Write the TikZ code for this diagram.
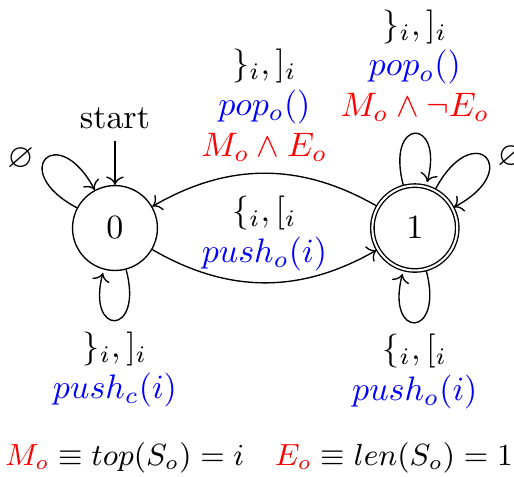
\documentclass[tikz,border=0pt]{standalone}
\usepackage{amsmath}
\usepackage{amssymb}
\usepackage{tikz}
\usetikzlibrary{
    arrows.meta, positioning,
    automata
}
\tikzset{
  st/.style={state, minimum size=2.5em},
  trans/.style={->},
  lbl/.style={align=center},
  loopul/.style={loop, out=152, in=118, looseness=8, min distance=5mm},
  loopur/.style={loop, out=62, in=28, looseness=8, min distance=5mm},
}
\newcommand{\act}[1]{\textcolor{blue}{$#1$}}
\newcommand{\cnd}[1]{\textcolor{red}{$#1$}}

\begin{document}
\begin{tikzpicture}[
  initial text=start
]
  \useasboundingbox (-1.19,-2.57) rectangle (4.13,2.36);
  % states
  \node[st, initial, initial where=above] (q0) {$0$};
  \node[st, accepting, right=2.2cm of q0] (q1) {$1$};
  % between states
  \path[trans] (q0) edge[bend right] node[above, lbl] {$\{_i, [_i$\\ \act{push_o(i)}} (q1)
               (q1) edge[bend right] node[above, lbl] {$\}_i, ]_i$\\ \act{pop_o()}\\ \cnd{M_o \land E_o}} (q0);
  % loops on 0
  \path[trans] (q0) edge[loopul] node[left] {$\varnothing$} (q0)
               (q0) edge[loop below] node[below, lbl] {$\}_i, ]_i$\\ \act{push_c(i)}} (q0);
  % loops on 1
  \path[trans] (q1) edge[loop above] node[above, lbl] {$\}_i, ]_i$\\ \act{pop_o()}\\ \cnd{M_o \land \neg E_o}} (q1)
               (q1) edge[loopur] node[right] {$\varnothing$} (q1)
               (q1) edge[loop below] node[below, lbl] {$\{_i, [_i$\\ \act{push_o(i)}} (q1);
  % legend
  \node[font=\small] (legend) at (1.49,-2.38) {$\textcolor{red}{M_o} \equiv top(S_o) = i \quad \textcolor{red}{E_o} \equiv len(S_o) = 1$};
\end{tikzpicture}
\end{document}
